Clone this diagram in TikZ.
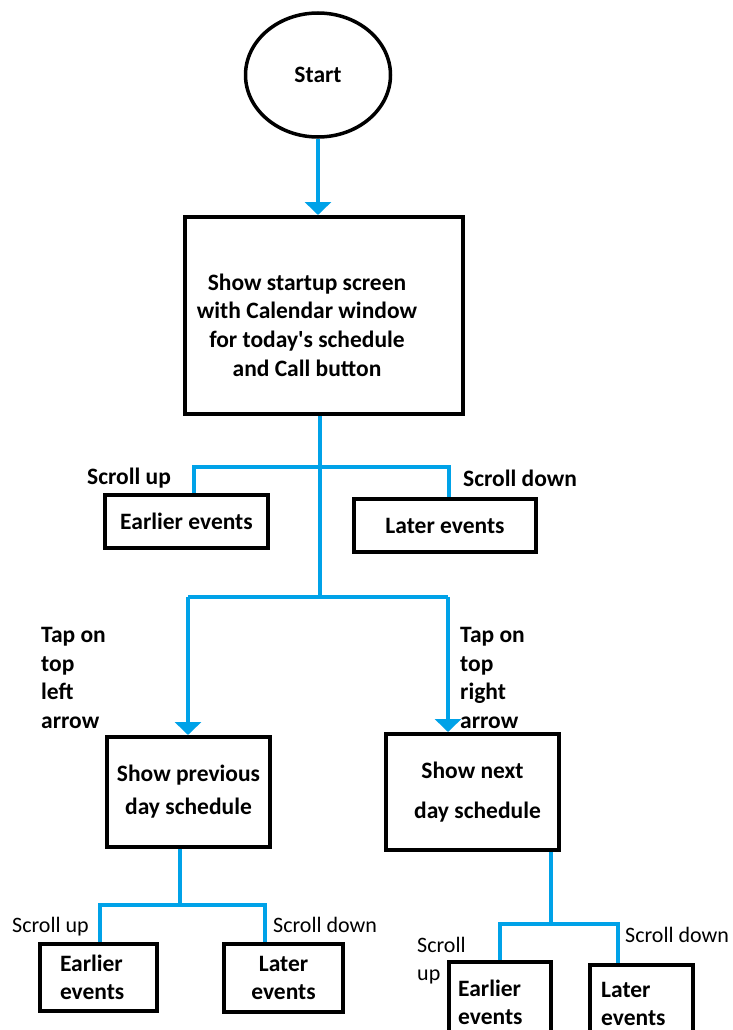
\documentclass[tikz,border=0pt]{standalone}
\usepackage{fontspec}
\setmainfont{Carlito}
\usetikzlibrary{arrows.meta,shapes.geometric}
\definecolor{flowblue}{RGB}{0,162,232}
\begin{document}
\begin{tikzpicture}[x=1pt,y=-1pt,
  every node/.style={inner sep=0pt},
  txt/.style={font=\fontsize{23.5}{28}\selectfont\bfseries},
  thin/.style={font=\fontsize{22}{28}\selectfont},
  box/.style={draw=black,line width=4pt,rectangle,txt},
  link/.style={draw=flowblue,line width=3.5pt},
  arr/.style={link,-{Triangle[width=26pt,length=13pt]}}]
\useasboundingbox (0,0) rectangle (733,1030);
\clip (0,0) rectangle (733,1030);

% start and main screen
\node[ellipse,draw,line width=3.5pt,minimum width=145pt,minimum height=124pt,txt] (start) at (318,75) {Start};
\node[box,minimum width=278pt,minimum height=197pt] (main) at (324,315.5) {};
\node[align=center,font=\fontsize{23.5}{28.7}\selectfont\bfseries] (maintext) at (307,325)
  {Show startup screen\\with Calendar window\\for today\textquotesingle s schedule\\and Call button};

% scrolling on the startup screen
\node[box,minimum width=163pt,minimum height=53pt] (tlE) at (186.5,521.5) {Earlier events};
\node[box,minimum width=182pt,minimum height=53pt] (tlL) at (445,525.5) {Later events};
\node[txt,anchor=west] (su1) at (87,478) {Scroll up};
\node[txt,anchor=west] (sd1) at (463,478) {Scroll down};

% previous / next day
\node[box,minimum width=163pt,minimum height=110pt,align=center,font=\fontsize{23.5}{33}\selectfont\bfseries] (prev) at (188.5,792) {Show previous\\day schedule};
\node[box,minimum width=173pt,minimum height=116pt,align=center,font=\fontsize{23.5}{40}\selectfont\bfseries] (next) at (472.5,792) {Show next\\\hspace*{10pt}day schedule};
\node[txt,anchor=west,align=left,font=\fontsize{23.5}{28.7}\selectfont\bfseries] (tapL) at (41,678) {Tap on\\top\\left\\arrow};
\node[txt,anchor=west,align=left,font=\fontsize{23.5}{28.7}\selectfont\bfseries] (tapR) at (460,678) {Tap on\\top\\right\\arrow};

% scrolling on the previous day
\node[box,minimum width=117pt,minimum height=67pt,text width=77pt,align=left] (blE) at (98.5,977.5) {Earlier\\events};
\node[box,minimum width=119pt,minimum height=68pt,align=center] (blL) at (283.5,978) {Later\\events};
\node[thin,anchor=west] (su2) at (12,927) {Scroll up};
\node[thin,anchor=west] (sd2) at (273,925) {Scroll down};

% scrolling on the next day
\node[box,minimum width=102pt,minimum height=81pt] (brE) at (500,1002.5) {};
\node[box,minimum width=103pt,minimum height=78pt] (brL) at (641.5,1004) {};
\node[txt,anchor=west,align=left] (brEt) at (458,1002) {Earlier\\events};
\node[txt,anchor=west,align=left] (brLt) at (601,1004) {Later\\events};
\node[thin,anchor=west,align=left] (su3) at (417,961) {Scroll\\up};
\node[thin,anchor=west] (sd3) at (625,935) {Scroll down};

% junctions
\coordinate (j1) at (320,467);
\coordinate (j2) at (320,597);
\coordinate (aL) at (194,467);
\coordinate (aR) at (449,467);
\coordinate (bL) at (188,597);
\coordinate (bR) at (448,597);
\coordinate (p0) at (180,905);
\coordinate (pL) at (100,905);
\coordinate (pR) at (265,905);
\coordinate (n0) at (551,924);
\coordinate (nL) at (500,924);
\coordinate (nR) at (618,924);

% connectors
\draw[arr] (start.south) -- (start.south |- main.north);
\draw[link] (j1 |- main.south) -- (j2);
\draw[link] (aL |- tlE.north) -- (aL) -- (aR) -- (aR |- tlL.north);
\draw[link] (bL) -- (bR);
\draw[arr] (bL) -- (bL |- prev.north);
\draw[arr] (bR) -- (bR |- next.north);
\draw[link] (p0 |- prev.south) -- (p0);
\draw[link] (pL |- blE.north) -- (pL) -- (pR) -- (pR |- blL.north);
\draw[link] (n0 |- next.south) -- (n0);
\draw[link] (nL |- brE.north) -- (nL) -- (nR) -- (nR |- brL.north);
\end{tikzpicture}
\end{document}
